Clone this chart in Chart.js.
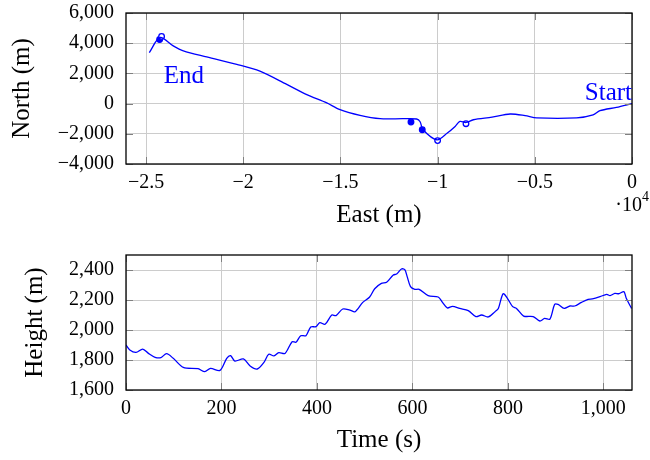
<!DOCTYPE html>
<html>
<head>
<meta charset="utf-8">
<script src="https://cdn.jsdelivr.net/npm/chart.js@4.4.0/dist/chart.umd.min.js"></script>
<style>
  body { margin: 0; background: #fff; }
  #wrap { position: relative; width: 650px; height: 460px; }
  canvas { position: absolute; left: 0; }
</style>
</head>
<body>
<div id="wrap">
  <canvas id="track" width="650" height="230" style="top:0"></canvas>
  <canvas id="alt" width="650" height="230" style="top:230px"></canvas>
</div>
<script>
// ground track (m)
const trackEast  = [-24830, -24280, -23600, -23080, -21880, -20330, -19140, -17760, -16730, -15700,
                    -15020, -13990, -12960, -11760, -11080, -10900, -10750, -10030, -9500, -9100,
                    -8850, -8540, -8160, -7200, -6270, -5500, -4900, -2850, -2000, -1650, -800, 0];
const trackNorth = [3380, 4380, 3820, 3490, 3090, 2600, 2150, 1270, 600, 47,
                    -400, -780, -1000, -1000, -1020, -1200, -1730, -2400, -1950, -1510,
                    -1180, -1250, -1070, -900, -690, -800, -950, -950, -750, -470, -250, 0];

// circling spots along the track
const loopEast   = [-24300, -24200, -11370, -10790, -10000, -8540];
const loopNorth  = [4250, 4450, -1220, -1730, -2450, -1330];
const loopFilled = [true, false, true, true, false, false];

// altitude over time
const timeS = [0, 8, 21, 35, 47, 61, 73, 85, 99, 120, 151, 165, 177, 197, 211, 219, 228, 246, 260, 275,
               289, 299, 310, 320, 333, 348, 356, 366, 377, 387, 398, 406, 417, 431, 440, 454, 469, 480, 496, 510,
               521, 535, 546, 560, 567, 577, 584, 589, 596, 605, 614, 633, 654, 663, 673, 684, 699, 717, 733, 745,
               759, 773, 780, 790, 799, 810, 818, 833, 853, 867, 877, 888, 898, 905, 918, 930, 940, 954, 968, 977,
               993, 1007, 1014, 1024, 1033, 1043, 1048, 1059];
const heightM = [1900, 1867, 1851, 1873, 1844, 1818, 1816, 1842, 1811, 1751, 1742, 1722, 1744, 1731, 1811, 1829, 1793, 1807, 1760, 1740,
                 1784, 1838, 1827, 1849, 1844, 1922, 1918, 1962, 1962, 2020, 2022, 2049, 2038, 2100, 2096, 2140, 2133, 2122, 2184, 2218,
                 2275, 2311, 2318, 2367, 2373, 2407, 2402, 2356, 2289, 2271, 2271, 2229, 2220, 2184, 2147, 2158, 2144, 2129, 2089, 2100,
                 2087, 2122, 2144, 2242, 2211, 2156, 2144, 2093, 2089, 2060, 2078, 2073, 2171, 2171, 2144, 2160, 2160, 2184, 2204, 2207,
                 2222, 2238, 2229, 2244, 2242, 2256, 2211, 2144];

const trackXTicks = [-25000, -20000, -15000, -10000, -5000, 0];
const trackYTicks = [-4000, -2000, 0, 2000, 4000, 6000];
const altXTicks = [0, 200, 400, 600, 800, 1000];
const altYTicks = [1600, 1800, 2000, 2200, 2400];

const SERIF = "'Liberation Serif', 'Times New Roman', serif";
const BLUE = '#0000ff';
const TICK = 7;

function fmt(v) {
  return v.toLocaleString('en-US').replace('-', '\u2212');
}

// frame, inward ticks, axis titles and text notes
const framePlugin = {
  id: 'frame',
  afterDraw(chart, args, opts) {
    const { ctx, chartArea: a, scales } = chart;
    const xs = scales.x, ys = scales.y;
    ctx.save();
    ctx.strokeStyle = '#808080';
    ctx.lineWidth = 1;
    ctx.beginPath();
    xs.ticks.forEach(t => {
      const px = Math.round(xs.getPixelForValue(t.value)) + 0.5;
      ctx.moveTo(px, a.bottom); ctx.lineTo(px, a.bottom - TICK);
      ctx.moveTo(px, a.top); ctx.lineTo(px, a.top + TICK);
    });
    ys.ticks.forEach(t => {
      const py = Math.round(ys.getPixelForValue(t.value)) + 0.5;
      ctx.moveTo(a.left, py); ctx.lineTo(a.left + TICK, py);
      ctx.moveTo(a.right, py); ctx.lineTo(a.right - TICK, py);
    });
    ctx.stroke();

    ctx.strokeStyle = '#000';
    ctx.lineWidth = 1.3;
    ctx.strokeRect(a.left, a.top, a.right - a.left, a.bottom - a.top);

    ctx.fillStyle = '#000';
    ctx.font = '25px ' + SERIF;
    ctx.textAlign = 'center';
    ctx.textBaseline = 'middle';
    ctx.fillText(opts.xTitle, (a.left + a.right) / 2, opts.xTitleY);

    ctx.save();
    ctx.translate(opts.yTitleX, (a.top + a.bottom) / 2);
    ctx.rotate(-Math.PI / 2);
    ctx.textBaseline = 'alphabetic';
    ctx.fillText(opts.yTitle, 0, 0);
    ctx.restore();

    if (opts.exponent) {
      ctx.font = '20px ' + SERIF;
      ctx.textAlign = 'right';
      ctx.textBaseline = 'alphabetic';
      ctx.fillText('\u00b710', a.right + 10, a.bottom + 47);
      ctx.font = '14px ' + SERIF;
      ctx.textAlign = 'left';
      ctx.fillText('4', a.right + 10, a.bottom + 37);
    }

    (opts.notes || []).forEach(n => {
      ctx.font = '25px ' + SERIF;
      ctx.fillStyle = BLUE;
      ctx.textAlign = n.align;
      ctx.textBaseline = 'middle';
      ctx.fillText(n.text, xs.getPixelForValue(n.x), ys.getPixelForValue(n.y));
    });
    ctx.restore();
  }
};

function axis(min, max, ticks, width, height, cb) {
  return {
    type: 'linear',
    min: min,
    max: max,
    afterBuildTicks: s => { s.ticks = ticks.map(v => ({ value: v })); },
    afterFit: s => {
      if (width !== null) s.width = width;
      if (height !== null) s.height = height;
      s.paddingTop = 0; s.paddingBottom = 0;
      s.paddingLeft = 0; s.paddingRight = 0;
    },
    border: { display: false },
    grid: { color: '#cccccc', lineWidth: 1, drawTicks: false },
    ticks: {
      color: '#000',
      padding: width !== null ? 12 : 7,
      maxRotation: 0,
      autoSkip: false,
      font: { family: SERIF, size: 20 },
      callback: cb
    }
  };
}

new Chart(document.getElementById('track'), {
  type: 'scatter',
  data: {
    datasets: [{
      data: trackEast.map((e, i) => ({ x: e, y: trackNorth[i] })),
      showLine: true,
      borderColor: BLUE,
      borderWidth: 1.3,
      pointRadius: 0,
      tension: 0.3
    }, {
      data: loopEast.map((e, i) => ({ x: e, y: loopNorth[i] })),
      showLine: false,
      pointRadius: 2.8,
      borderWidth: 1.3,
      pointBorderColor: BLUE,
      pointBackgroundColor: loopFilled.map(f => f ? BLUE : '#ffffff')
    }]
  },
  options: {
    responsive: false,
    animation: false,
    layout: { padding: { left: 0, right: 18, top: 13, bottom: 0 }, autoPadding: false },
    scales: {
      x: axis(-26030, 0, trackXTicks, null, 66, v => fmt(v / 10000)),
      y: axis(-4000, 6000, trackYTicks, 126, null, v => fmt(v))
    },
    plugins: {
      legend: { display: false },
      tooltip: { enabled: false },
      frame: {
        xTitle: 'East (m)', xTitleY: 215,
        yTitle: 'North (m)', yTitleX: 29,
        exponent: true,
        notes: [
          { text: 'End', x: -23050, y: 1800, align: 'center' },
          { text: 'Start', x: 0, y: 670, align: 'right' }
        ]
      }
    }
  },
  plugins: [framePlugin]
});

new Chart(document.getElementById('alt'), {
  type: 'scatter',
  data: {
    datasets: [{
      data: timeS.map((t, i) => ({ x: t, y: heightM[i] })),
      showLine: true,
      borderColor: BLUE,
      borderWidth: 1.3,
      pointRadius: 0,
      tension: 0.3
    }]
  },
  options: {
    responsive: false,
    animation: false,
    layout: { padding: { left: 0, right: 18, top: 25, bottom: 0 }, autoPadding: false },
    scales: {
      x: axis(0, 1060, altXTicks, null, 70, v => fmt(v)),
      y: axis(1600, 2500, altYTicks, 126, null, v => fmt(v))
    },
    plugins: {
      legend: { display: false },
      tooltip: { enabled: false },
      frame: {
        xTitle: 'Time (s)', xTitleY: 210,
        yTitle: 'Height (m)', yTitleX: 42
      }
    }
  },
  plugins: [framePlugin]
});
</script>
</body>
</html>
